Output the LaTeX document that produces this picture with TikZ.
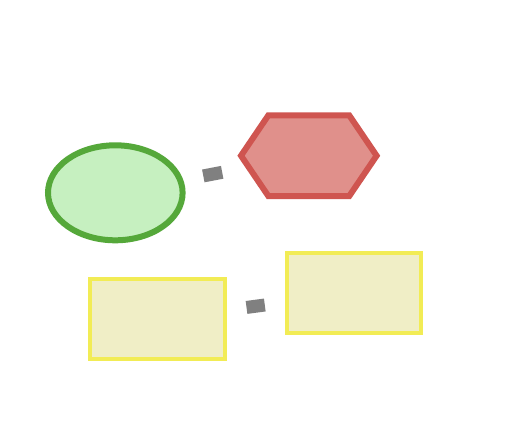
\documentclass[tikz,border=0pt]{standalone}
\usetikzlibrary{shapes.geometric}
\definecolor{gstroke}{HTML}{55A83A}
\definecolor{gfill}{HTML}{C6F0C0}
\definecolor{rstroke}{HTML}{CF5550}
\definecolor{rfill}{HTML}{E0908B}
\definecolor{ystroke}{HTML}{F2EC55}
\definecolor{yfill}{HTML}{F0EEC6}
\definecolor{link}{HTML}{808080}
\tikzset{
  ellnode/.style={ellipse, draw=gstroke, fill=gfill, line width=6pt, inner sep=0pt, outer sep=0pt, minimum width=134.6pt, minimum height=95pt},
  boxnode/.style={rectangle, draw=ystroke, fill=yfill, line width=4pt, inner sep=0pt, outer sep=0pt, minimum width=134.4pt, minimum height=80pt},
  hexcenter/.style={inner sep=0pt, outer sep=0pt, minimum size=0pt},
  hexline/.style={draw=rstroke, fill=rfill, line width=6pt, line join=miter},
  linkline/.style={draw=link, line width=13pt}
}
\begin{document}
\begin{tikzpicture}[x=1pt,y=-1pt]
\useasboundingbox[fill=white] (0,0) rectangle (530,444);
\node[ellnode] (ell) at (115.3,192.8) {};
\node[hexcenter] (hex) at (308.8,155.7) {};
\draw[hexline] (hex.center) +(-67.8,0) -- +(-40.5,-40.3) -- +(40.5,-40.3) -- +(67.8,0) -- +(40.5,40.3) -- +(-40.5,40.3) -- cycle;
\node[boxnode] (boxa) at (157.5,319.2) {};
\node[boxnode] (boxb) at (354.2,293.2) {};
\draw[linkline, shorten <=89.6pt, shorten >=88.2pt] (ell.center) -- (hex.center);
\draw[linkline, shorten <=89.8pt, shorten >=90.2pt] (boxa.center) -- (boxb.center);
\end{tikzpicture}
\end{document}
